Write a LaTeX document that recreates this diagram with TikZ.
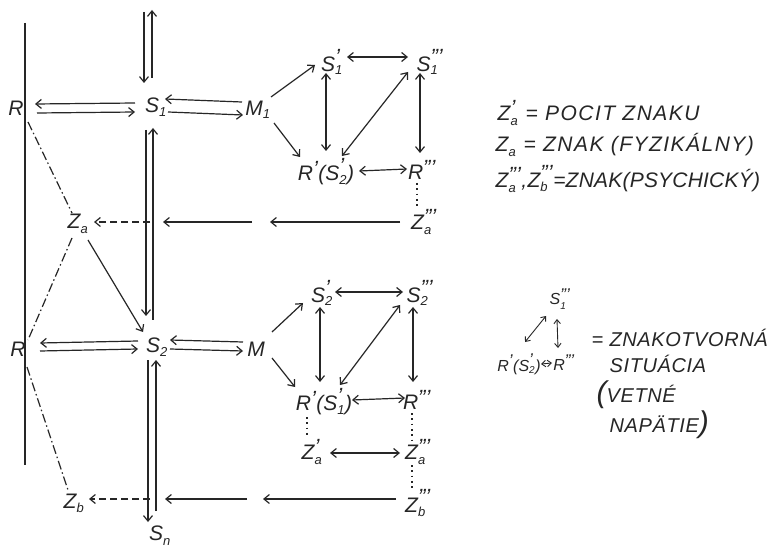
\documentclass[tikz,border=0pt]{standalone}
\usepackage{fontspec}
\setmainfont{Liberation Sans}
\usetikzlibrary{arrows.meta,calc}
\definecolor{ink}{RGB}{38,38,38}
\newcommand\sbf{\fontsize{13}{13}\selectfont}
\newcommand\ssbf{\fontsize{10}{10}\selectfont}
\newcommand\pbf{\fontsize{22}{22}\selectfont}
\newcommand\spbf{\fontsize{17}{17}\selectfont}
\newcommand\lb[3]{#1$_{\hbox{\sbf #2}}^{\hbox{\pbf\raisebox{-3pt}{#3}}}$}
\newcommand\lbs[3]{#1$_{\hbox{\ssbf #2}}^{\hbox{\spbf\raisebox{-2pt}{#3}}}$}
\newcommand\pr[1]{$^{\hbox{\pbf\raisebox{-3pt}{#1}}}$}
\newcommand\prs[1]{$^{\hbox{\spbf\raisebox{-2pt}{#1}}}$}
\begin{document}
\begin{tikzpicture}[x=1pt,y=-1pt,
  lbl/.style={font=\fontsize{21}{24}\selectfont\itshape, text=ink, inner sep=0.5pt},
  lgd/.style={lbl, anchor=west, font=\fontsize{21}{24}\selectfont\itshape\addfontfeature{LetterSpace=7}},
  lgd3/.style={lbl, anchor=west, font=\fontsize{21}{24}\selectfont\itshape\addfontfeature{LetterSpace=1}},
  lgd2/.style={lbl, anchor=west, font=\fontsize{20}{23}\selectfont\itshape\addfontfeature{LetterSpace=3}},
  small/.style={font=\fontsize{16}{18}\selectfont\itshape, text=ink, inner sep=0.5pt},
  ln/.style={draw=ink, line width=1.2pt},
  arr/.style={ln, -{Straight Barb[length=5.5pt,width=9pt]}},
  darr/.style={ln, {Straight Barb[length=5.5pt,width=9pt]}-{Straight Barb[length=5.5pt,width=9pt]}},
  sdarr/.style={ln, line width=0.9pt, {Straight Barb[length=4pt,width=6.5pt]}-{Straight Barb[length=4pt,width=6.5pt]}},
  dsh/.style={arr, dash pattern=on 7pt off 4pt},
  dd/.style={ln, dash pattern=on 9pt off 3pt on 1.5pt off 3pt},
  dot/.style={ln, line width=1.8pt, dash pattern=on 1.8pt off 3.5pt},
]
\fill[white] (0,0) rectangle (777,548);
\useasboundingbox (0,0) rectangle (777,548);

% ---------- nodes: left part ----------
\node[lbl] (R1) at (16,108) {R};
\node[lbl] (S1) at (156,107) {\lb{S}{1}{}};
\node[lbl] (M1) at (258,110) {\lb{M}{1}{}};
\node[lbl] (Za) at (78,224) {\lb{Z}{a}{}};
\node[lbl] (R2) at (18,349) {R};
\node[lbl] (S2) at (157,347) {\lb{S}{2}{}};
\node[lbl] (M2) at (256,349) {M};
\node[lbl] (Zb) at (74,503) {\lb{Z}{b}{}};
\node[lbl] (Sn) at (160,536) {\lb{S}{n}{}};

% ---------- nodes: upper cluster ----------
\node[lbl] (S1p) at (332,62) {\lb{S}{1}{'}};
\node[lbl] (S1t) at (430,62) {\lb{S}{1}{'''}};
\node[lbl] (RS2) at (326,172) {R\pr{'}(\lb{S}{2}{'})};
\node[lbl] (Rt1) at (422,170) {R\pr{'''}};
\node[lbl] (Zat1) at (424,222) {\lb{Z}{a}{'''}};

% ---------- nodes: lower cluster ----------
\node[lbl] (S2p) at (322,293) {\lb{S}{2}{'}};
\node[lbl] (S2t) at (420,293) {\lb{S}{2}{'''}};
\node[lbl] (RS1) at (324,402) {R\pr{'}(\lb{S}{1}{'})};
\node[lbl] (Rt2) at (417,400) {R\pr{'''}};
\node[lbl] (Zap) at (312,452) {\lb{Z}{a}{'}};
\node[lbl] (Zat2) at (418,452) {\lb{Z}{a}{'''}};
\node[lbl] (Zbt) at (418,503) {\lb{Z}{b}{'''}};

% ---------- free coordinates ----------
\coordinate (Ltop) at (25,23);
\coordinate (Lbot) at (25,465);
\coordinate (Va1) at (144,12);  \coordinate (Va2) at (144,83);
\coordinate (Vb1) at (152,10);  \coordinate (Vb2) at (152,78);
\coordinate (Vc1) at (146,130); \coordinate (Vc2) at (146,316);
\coordinate (Vd1) at (153,128); \coordinate (Vd2) at (153,320);
\coordinate (Ve1) at (148,360); \coordinate (Ve2) at (148,522);
\coordinate (Vf1) at (156,360); \coordinate (Vf2) at (156,511);
\coordinate (h1a) at (270,222); \coordinate (h1b) at (252,222); \coordinate (h1c) at (163,222); \coordinate (h1d) at (150,222);
\coordinate (h2a) at (263,499); \coordinate (h2b) at (247,499); \coordinate (h2c) at (165,499); \coordinate (h2d) at (150,499);

% ---------- left structure ----------
\draw[ln] (Ltop) -- (Lbot);
\draw[arr] (Va1) -- (Va2);
\draw[arr] (Vb2) -- (Vb1);
\draw[arr] (Vc1) -- (Vc2);
\draw[arr] (Vd2) -- (Vd1);
\draw[arr] (Ve1) -- (Ve2);
\draw[arr] (Vf2) -- (Vf1);

\draw[arr] ($(S1)+(-21,-4)$) -- ($(R1)+(19,-4)$);
\draw[arr] ($(R1)+(21,5)$) -- ($(S1)+(-21,5)$);
\draw[arr] ($(M1)+(-16,-8)$) -- ($(S1)+(9,-8)$);
\draw[arr] ($(S1)+(12,5)$) -- ($(M1)+(-15,5)$);

\draw[arr] ($(S2)+(-19,-6)$) -- ($(R2)+(22,-6)$);
\draw[arr] ($(R2)+(22,2)$) -- ($(S2)+(-19,2)$);
\draw[arr] ($(M2)+(-13,-7)$) -- ($(S2)+(13,-7)$);
\draw[arr] ($(S2)+(13,2)$) -- ($(M2)+(-13,2)$);

\draw[dd] ($(R1)+(12,14)$) -- ($(Za)+(-6,-11)$);
\draw[dd] ($(Za)+(-6,14)$) -- ($(R2)+(10,-9)$);
\draw[arr] ($(Za)+(10,16)$) -- ($(S2)+(-14,-15)$);
\draw[dd] ($(R2)+(9,18)$) -- ($(Zb)+(-6,-13)$);

\draw[arr] ($(Zat1)+(-24,0)$) -- (h1a);
\draw[arr] (h1b) -- (h1c);
\draw[dsh] (h1d) -- ($(Za)+(16,-2)$);
\draw[arr] ($(Zbt)+(-22,-4)$) -- (h2a);
\draw[arr] (h2b) -- (h2c);
\draw[dsh] (h2d) -- ($(Zb)+(15,-4)$);

% ---------- upper cluster ----------
\draw[arr] ($(M1)+(13,-13)$) -- ($(S1p)+(-17,3)$);
\draw[arr] ($(M1)+(16,13)$) -- ($(RS2)+(-26,-15)$);
\draw[darr] ($(S1p)+(15,-5)$) -- ($(S1t)+(-22,-5)$);
\draw[darr] ($(S1p)+(-6,11)$) -- ($(RS2)+(0,-21)$);
\draw[darr] ($(S1t)+(-22,10)$) -- ($(RS2)+(16,-16)$);
\draw[darr] ($(S1t)+(-10,11)$) -- ($(Rt1)+(-2,-17)$);
\draw[darr] ($(RS2)+(33,-1)$) -- ($(Rt1)+(-15,-1)$);
\draw[dot] ($(Rt1)+(-5,13)$) -- ($(Zat1)+(-7,-14)$);

% ---------- lower cluster ----------
\draw[arr] ($(M2)+(16,-17)$) -- ($(S2p)+(-19,10)$);
\draw[arr] ($(M2)+(16,9)$) -- ($(RS1)+(-29,-15)$);
\draw[darr] ($(S2p)+(13,-1)$) -- ($(S2t)+(-17,-1)$);
\draw[darr] ($(S2p)+(-2,14)$) -- ($(RS1)+(-4,-20)$);
\draw[darr] ($(S2t)+(-20,12)$) -- ($(RS1)+(16,-17)$);
\draw[darr] ($(S2t)+(-7,14)$) -- ($(Rt2)+(-4,-18)$);
\draw[darr] ($(RS1)+(28,-2)$) -- ($(Rt2)+(-12,-2)$);
\draw[dot] ($(RS1)+(-17,15)$) -- ($(Zap)+(-5,-14)$);
\draw[darr] ($(Zap)+(18,1)$) -- ($(Zat2)+(-18,1)$);
\draw[dot] ($(Rt2)+(-5,13)$) -- ($(Zat2)+(-6,-12)$);
\draw[dot] ($(Zat2)+(-6,13)$) -- ($(Zbt)+(-6,-13)$);

% ---------- legend ----------
\node[lgd] (L1) at (497,113) {\lb{Z}{a}{'} = POCIT ZNAKU};
\node[lgd] (L2) at (495,145) {\lb{Z}{a}{} = ZNAK (FYZIKÁLNY)};
\node[lgd3] (L3) at (495,179) {\lb{Z}{a}{'''},\lb{Z}{b}{'''}=ZNAK(PSYCHICKÝ)};

\node[small] (Sts) at (560,299) {\lbs{S}{1}{'''}};
\node[small] (RSs) at (519,364) {R\prs{'}(\lbs{S}{2}{'})};
\node[small] (Rts) at (564,363) {R\prs{'''}};
\draw[sdarr] ($(Sts)+(-14,17)$) -- ($(RSs)+(6,-22)$);
\draw[sdarr] ($(Sts)+(-3,20)$) -- ($(Rts)+(-6,-15)$);
\draw[sdarr] ($(RSs)+(22,0)$) -- ($(Rts)+(-12,0)$);

\node[lgd2] (T1) at (591,338) {= ZNAKOTVORNÁ};
\node[lgd2] (T2) at (609,364) {SITUÁCIA};
\node[lgd2] (T3) at (596,395) {{\fontsize{30}{30}\selectfont (}VETNÉ};
\node[lgd2] (T4) at (609,425) {NAPÄTIE{\fontsize{30}{30}\selectfont )}};
\end{tikzpicture}
\end{document}
